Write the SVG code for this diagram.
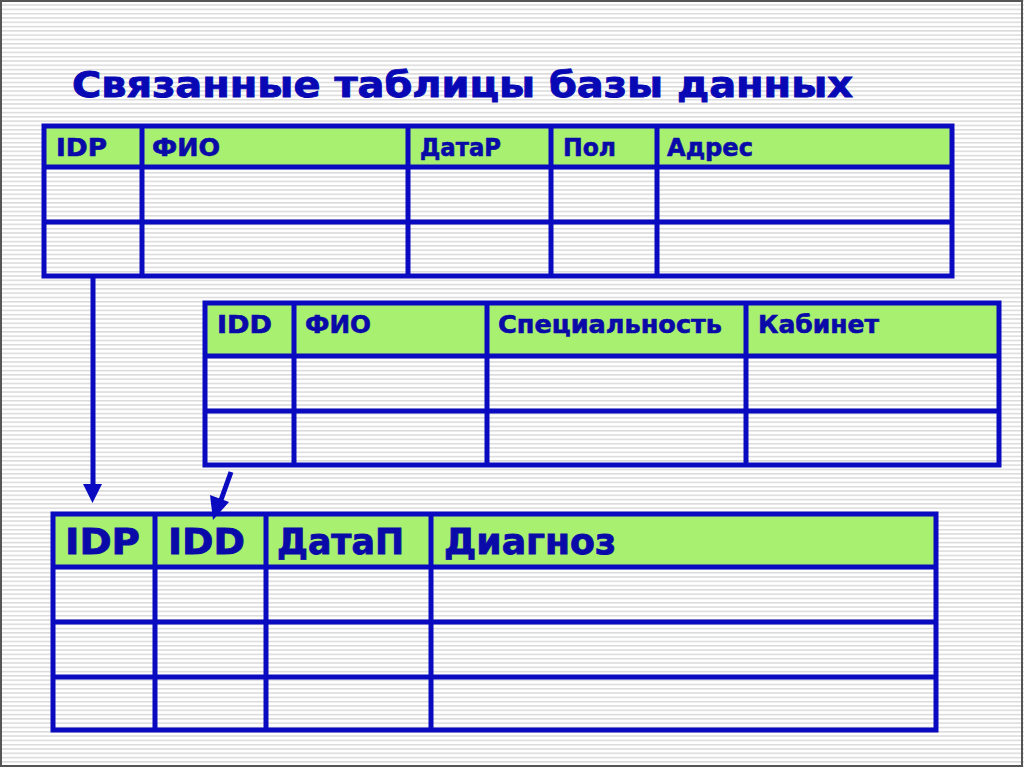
<svg xmlns="http://www.w3.org/2000/svg" width="1024" height="768" viewBox="0 0 1024 768">
<defs>
<pattern id="stripes" width="8" height="4.3" patternUnits="userSpaceOnUse">
<rect width="8" height="4.3" fill="#ffffff"/>
<rect y="0" width="8" height="1.5" fill="#dadada"/>
</pattern>
<style>
.grid{fill:none;stroke:#0a0ac0;stroke-width:5;}
.hdr{fill:#a8f070;}
.t{font-family:"DejaVu Sans","Liberation Sans",sans-serif;font-weight:bold;fill:#0a0aa8;stroke:#0a0aa8;stroke-width:0.6;}
.s{font-size:24px;}
.b{font-size:36px;stroke-width:0.9;}
.arrow{stroke:#0a0ac0;stroke-width:5;fill:none;}
.head{fill:#0a0ac0;}
</style>
</defs>
<rect x="0" y="0" width="1024" height="768" fill="url(#stripes)"/>
<rect x="1" y="1" width="1021" height="765" fill="none" stroke="#555" stroke-width="2"/>
<text class="t" x="72" y="97" font-size="36" style="fill:#0808b4;stroke:#0808b4;stroke-width:0.9" textLength="781" lengthAdjust="spacingAndGlyphs">Связанные таблицы базы данных</text>

<g id="table-patients">
<rect class="hdr" x="44" y="126" width="908" height="41"/>
<rect class="grid" x="44" y="126" width="908" height="150"/>
<line class="grid" x1="44" y1="167" x2="952" y2="167"/>
<line class="grid" x1="44" y1="222" x2="952" y2="222"/>
<line class="grid" x1="142" y1="126" x2="142" y2="276"/>
<line class="grid" x1="408" y1="126" x2="408" y2="276"/>
<line class="grid" x1="551" y1="126" x2="551" y2="276"/>
<line class="grid" x1="657" y1="126" x2="657" y2="276"/>
<text class="t s" x="56" y="156" textLength="51" lengthAdjust="spacingAndGlyphs">IDP</text>
<text class="t s" x="152" y="156" textLength="68" lengthAdjust="spacingAndGlyphs">ФИО</text>
<text class="t s" x="420" y="156" textLength="81" lengthAdjust="spacingAndGlyphs">ДатаР</text>
<text class="t s" x="563" y="156" textLength="53" lengthAdjust="spacingAndGlyphs">Пол</text>
<text class="t s" x="667" y="156" textLength="86" lengthAdjust="spacingAndGlyphs">Адрес</text>
</g>

<g id="table-doctors">
<rect class="hdr" x="205" y="303" width="794" height="53"/>
<rect class="grid" x="205" y="303" width="794" height="162"/>
<line class="grid" x1="205" y1="356" x2="999" y2="356"/>
<line class="grid" x1="205" y1="411" x2="999" y2="411"/>
<line class="grid" x1="294" y1="303" x2="294" y2="465"/>
<line class="grid" x1="487" y1="303" x2="487" y2="465"/>
<line class="grid" x1="746" y1="303" x2="746" y2="465"/>
<text class="t s" x="217" y="333" textLength="55" lengthAdjust="spacingAndGlyphs">IDD</text>
<text class="t s" x="305" y="333" textLength="66" lengthAdjust="spacingAndGlyphs">ФИО</text>
<text class="t s" x="498" y="333" textLength="224" lengthAdjust="spacingAndGlyphs">Специальность</text>
<text class="t s" x="758" y="333" textLength="121" lengthAdjust="spacingAndGlyphs">Кабинет</text>
</g>

<g id="table-visits">
<rect class="hdr" x="53" y="514" width="883" height="53"/>
<rect class="grid" x="53" y="514" width="883" height="216"/>
<line class="grid" x1="53" y1="567" x2="936" y2="567"/>
<line class="grid" x1="53" y1="622" x2="936" y2="622"/>
<line class="grid" x1="53" y1="677" x2="936" y2="677"/>
<line class="grid" x1="155" y1="514" x2="155" y2="730"/>
<line class="grid" x1="266" y1="514" x2="266" y2="730"/>
<line class="grid" x1="431" y1="514" x2="431" y2="730"/>
<text class="t b" x="65" y="554" textLength="75" lengthAdjust="spacingAndGlyphs">IDP</text>
<text class="t b" x="168" y="554" textLength="77" lengthAdjust="spacingAndGlyphs">IDD</text>
<text class="t b" x="277" y="554" textLength="127" lengthAdjust="spacingAndGlyphs">ДатаП</text>
<text class="t b" x="444" y="554" textLength="172" lengthAdjust="spacingAndGlyphs">Диагноз</text>
</g>

<g id="connectors">
<line class="arrow" x1="93" y1="278" x2="93" y2="486"/>
<polygon class="head" points="83,484 102,484 92.5,503"/>
<line class="arrow" x1="231" y1="472" x2="221" y2="500" stroke-width="6"/>
<polygon class="head" points="210,495 229,502 213,520"/>
</g>
</svg>
